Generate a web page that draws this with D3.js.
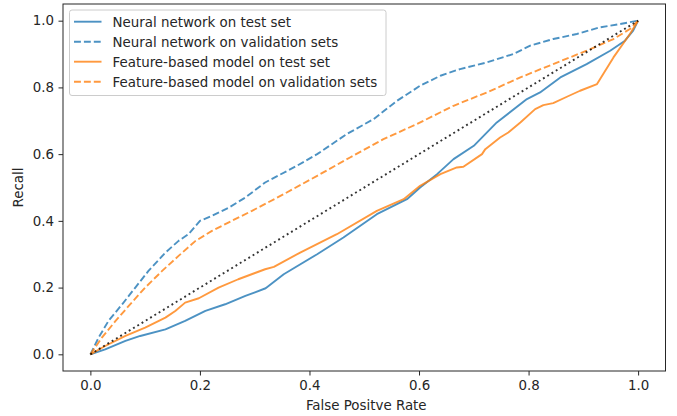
<!DOCTYPE html>
<html>
<head>
<meta charset="utf-8">
<script src="https://cdn.jsdelivr.net/npm/d3@7"></script>
<style>
  body { margin: 0; background: #fff; }
  svg { display: block; font-family: "DejaVu Sans", sans-serif; }
</style>
</head>
<body>
<svg id="chart" width="677" height="416"></svg>
<script>
// ---- Data ----
const xTicks = [0.0, 0.2, 0.4, 0.6, 0.8, 1.0];
const yTicks = [0.0, 0.2, 0.4, 0.6, 0.8, 1.0];
const xLabel = "False Positve Rate";
const yLabel = "Recall";

const nnTestFpr = [0, 0.027, 0.064, 0.091, 0.137, 0.173, 0.21, 0.246, 0.283, 0.32, 0.353, 0.414, 0.462, 0.523, 0.578, 0.602, 0.633, 0.663, 0.70, 0.742, 0.797, 0.821, 0.858, 0.906, 0.949, 0.976, 0.991, 1.0];
const nnTestTpr = [0, 0.015, 0.04, 0.055, 0.075, 0.10, 0.13, 0.15, 0.175, 0.198, 0.24, 0.30, 0.35, 0.42, 0.465, 0.50, 0.54, 0.585, 0.625, 0.695, 0.765, 0.785, 0.83, 0.87, 0.91, 0.94, 0.97, 1.0];

const nnValFpr = [0, 0.015, 0.033, 0.058, 0.082, 0.106, 0.137, 0.161, 0.179, 0.2, 0.222, 0.253, 0.283, 0.319, 0.377, 0.414, 0.468, 0.517, 0.56, 0.602, 0.639, 0.675, 0.724, 0.772, 0.803, 0.845, 0.888, 0.93, 0.967, 1.0];
const nnValTpr = [0, 0.05, 0.10, 0.15, 0.20, 0.25, 0.305, 0.34, 0.36, 0.40, 0.415, 0.44, 0.47, 0.515, 0.565, 0.60, 0.66, 0.705, 0.76, 0.805, 0.835, 0.855, 0.875, 0.90, 0.925, 0.945, 0.96, 0.98, 0.99, 1.0];

const fbTestFpr = [0, 0.027, 0.064, 0.1, 0.137, 0.155, 0.173, 0.198, 0.234, 0.27, 0.319, 0.335, 0.383, 0.45, 0.523, 0.572, 0.602, 0.639, 0.669, 0.681, 0.715, 0.721, 0.748, 0.763, 0.785, 0.812, 0.827, 0.845, 0.87, 0.894, 0.925, 0.955, 0.985, 1.0];
const fbTestTpr = [0, 0.025, 0.055, 0.08, 0.11, 0.13, 0.155, 0.168, 0.20, 0.225, 0.255, 0.262, 0.305, 0.36, 0.43, 0.465, 0.505, 0.54, 0.56, 0.562, 0.60, 0.615, 0.65, 0.665, 0.695, 0.735, 0.747, 0.753, 0.772, 0.79, 0.81, 0.89, 0.96, 1.0];

const fbValFpr = [0, 0.021, 0.046, 0.07, 0.1, 0.131, 0.161, 0.192, 0.222, 0.258, 0.295, 0.353, 0.414, 0.474, 0.535, 0.596, 0.663, 0.724, 0.785, 0.845, 0.906, 0.955, 0.985, 1.0];
const fbValTpr = [0, 0.05, 0.10, 0.145, 0.20, 0.25, 0.295, 0.34, 0.37, 0.40, 0.43, 0.48, 0.535, 0.59, 0.645, 0.69, 0.745, 0.785, 0.83, 0.87, 0.91, 0.945, 0.975, 1.0];

const chanceFpr = [0, 1];
const chanceTpr = [0, 1];

const seriesNames = ["Neural network on test set", "Neural network on validation sets", "Feature-based model on test set", "Feature-based model on validation sets"];
const seriesColors = ["#1f77b4", "#1f77b4", "#ff7f0e", "#ff7f0e"];
const seriesDashed = [false, true, false, true];

// ---- Layout ----
const svg = d3.select("#chart");
const pLeft = 63, pRight = 665.5, pTop = 4, pBottom = 371;
const x = d3.scaleLinear().domain([-0.05, 1.05]).range([pLeft, pRight]);
const y = d3.scaleLinear().domain([-0.05, 1.05]).range([pBottom, pTop]);

const fontSize = 13.4;
const textColor = "#262626";

// Curves
const line = d3.line().x(d => x(d[0])).y(d => y(d[1]));
const plot = svg.append("g");
const series = [
  [nnTestFpr, nnTestTpr],
  [nnValFpr, nnValTpr],
  [fbTestFpr, fbTestTpr],
  [fbValFpr, fbValTpr]
];
const dash = "6.9,3";
series.forEach((s, i) => {
  const pts = s[0].map((v, j) => [v, s[1][j]]);
  plot.append("path")
    .attr("d", line(pts))
    .attr("fill", "none")
    .attr("stroke", seriesColors[i])
    .attr("stroke-opacity", 0.8)
    .attr("stroke-width", 1.9)
    .attr("stroke-linejoin", "round")
    .attr("stroke-dasharray", seriesDashed[i] ? dash : null);
});

// Chance diagonal
plot.append("path")
  .attr("d", line(chanceFpr.map((v, j) => [v, chanceTpr[j]])))
  .attr("fill", "none")
  .attr("stroke", "#000")
  .attr("stroke-opacity", 0.8)
  .attr("stroke-width", 1.9)
  .attr("stroke-linecap", "butt")
  .attr("stroke-dasharray", "1.9,3.1");

// Axes
const xAxis = d3.axisBottom(x).tickValues(xTicks).tickFormat(d3.format(".1f")).tickSize(4.5).tickPadding(4.5);
const yAxis = d3.axisLeft(y).tickValues(yTicks).tickFormat(d3.format(".1f")).tickSize(4.5).tickPadding(4.5);

const gx = svg.append("g").attr("transform", `translate(0,${pBottom})`).call(xAxis);
const gy = svg.append("g").attr("transform", `translate(${pLeft},0)`).call(yAxis);
[gx, gy].forEach(g => {
  g.select(".domain").remove();
  g.selectAll(".tick line").attr("stroke", textColor).attr("stroke-width", 1);
  g.selectAll(".tick text").attr("fill", textColor).style("font-size", fontSize + "px").style("font-family", "DejaVu Sans");
});

// Frame
svg.append("rect")
  .attr("x", pLeft).attr("y", pTop)
  .attr("width", pRight - pLeft).attr("height", pBottom - pTop)
  .attr("fill", "none").attr("stroke", textColor).attr("stroke-width", 1);

// Axis labels
svg.append("text")
  .attr("x", (pLeft + pRight) / 2 + 2).attr("y", 410)
  .attr("text-anchor", "middle")
  .attr("fill", textColor)
  .style("font-size", fontSize + "px")
  .text(xLabel);

svg.append("text")
  .attr("transform", `translate(23,${(pTop + pBottom) / 2}) rotate(-90)`)
  .attr("text-anchor", "middle")
  .attr("fill", textColor)
  .style("font-size", fontSize + "px")
  .text(yLabel);

// Legend
const lg = svg.append("g");
lg.append("rect")
  .attr("x", 69.5).attr("y", 10).attr("width", 316.5).attr("height", 85.5)
  .attr("rx", 2.5).attr("ry", 2.5)
  .attr("fill", "#fff").attr("fill-opacity", 0.8)
  .attr("stroke", "#cccccc").attr("stroke-width", 1);
seriesNames.forEach((name, i) => {
  const cy = 21.7 + i * 20;
  lg.append("line")
    .attr("x1", 74).attr("x2", 101.5)
    .attr("y1", cy).attr("y2", cy)
    .attr("stroke", seriesColors[i])
    .attr("stroke-opacity", 0.8)
    .attr("stroke-width", 1.9)
    .attr("stroke-dasharray", seriesDashed[i] ? dash : null);
  lg.append("text")
    .attr("x", 112.5).attr("y", cy + 4.8)
    .attr("fill", textColor)
    .style("font-size", fontSize + "px")
    .text(name);
});
</script>
</body>
</html>
